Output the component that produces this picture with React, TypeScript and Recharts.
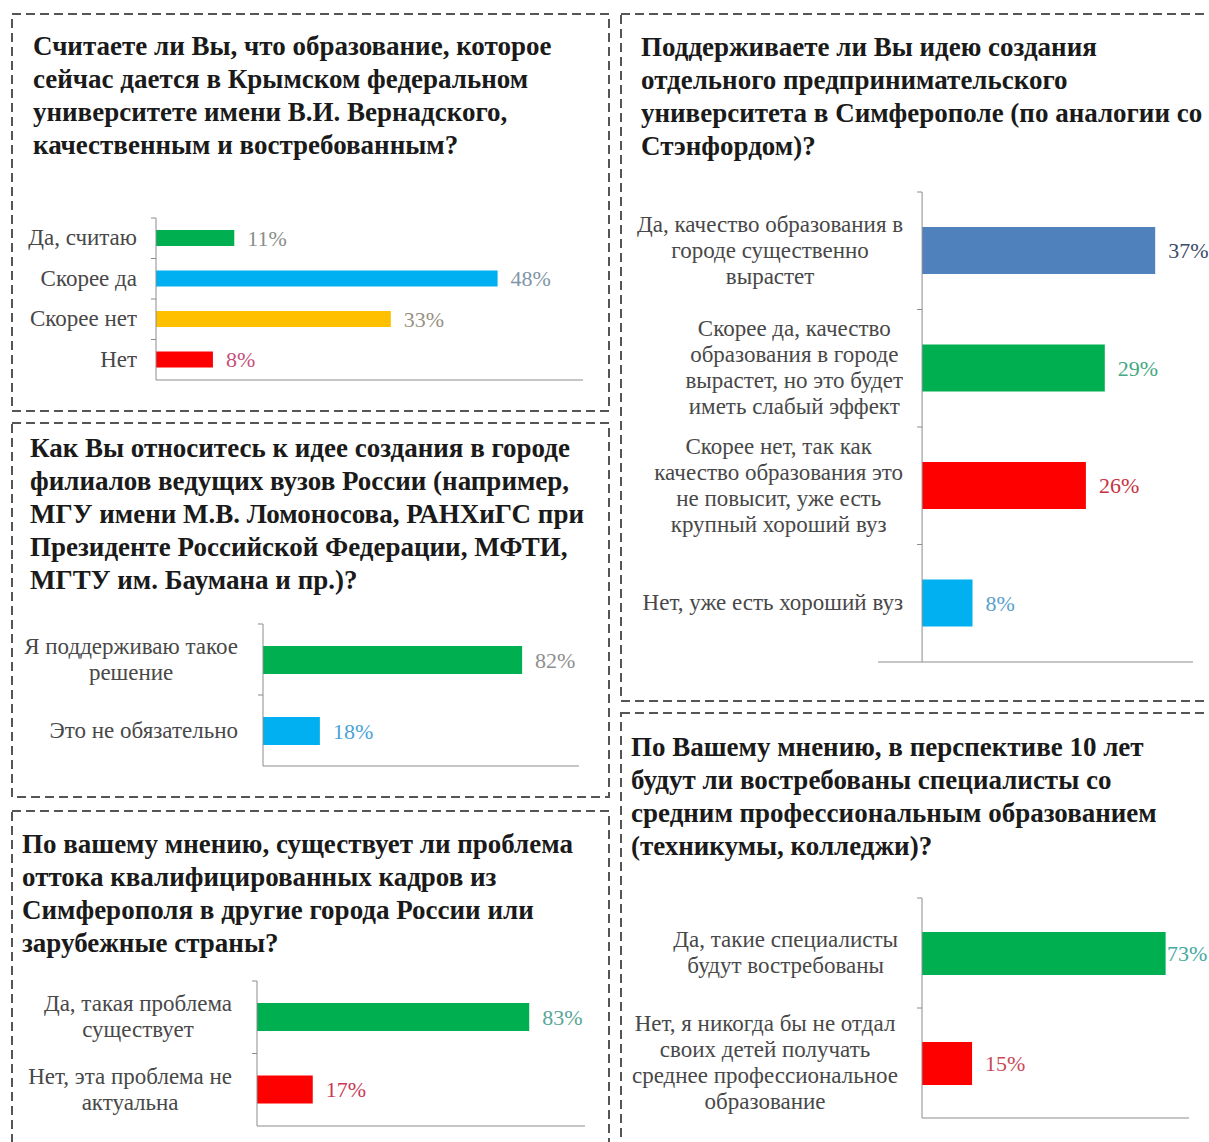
import { BarChart, Bar, XAxis, YAxis, Cell, LabelList, ReferenceLine } from 'recharts';

const SERIF = '"Liberation Serif", "Times New Roman", serif';
const AXIS = '#8c8c8c';

// Panel 1: quality of education at the university
const qualityTitle = [
  'Считаете ли Вы, что образование, которое',
  'сейчас дается в Крымском федеральном',
  'университете имени В.И. Вернадского,',
  'качественным и востребованным?',
];
const qualityCategories = ['Да, считаю', 'Скорее да', 'Скорее нет', 'Нет'];
const qualityValues = [11, 48, 33, 8];
const qualityColors = ['#00B050', '#00B0F0', '#FFC000', '#FF0000'];
const qualityLabelColors = ['#8a8f8a', '#7f94a8', '#9a9282', '#c8507a'];
const qualityTicks = [0, 10, 20, 30, 40, 50, 60];

// Panel 2: branches of leading universities
const branchesTitle = [
  'Как Вы относитесь к идее создания в городе',
  'филиалов ведущих вузов России (например,',
  'МГУ имени М.В. Ломоносова, РАНХиГС при',
  'Президенте Российской Федерации, МФТИ,',
  'МГТУ им. Баумана и пр.)?',
];
const branchesCategories = ['Я поддерживаю такое\nрешение', 'Это не обязательно'];
const branchesValues = [82, 18];
const branchesColors = ['#00B050', '#00B0F0'];
const branchesLabelColors = ['#8f8f8f', '#4aa3d6'];
const branchesTicks = [0, 20, 40, 60, 80, 100];

// Panel 3: brain drain
const drainTitle = [
  'По вашему мнению, существует ли проблема',
  'оттока квалифицированных кадров из',
  'Симферополя в другие города России или',
  'зарубежные страны?',
];
const drainCategories = ['Да, такая проблема\nсуществует', 'Нет, эта проблема не\nактуальна'];
const drainValues = [83, 17];
const drainColors = ['#00B050', '#FF0000'];
const drainLabelColors = ['#5aa598', '#c83a55'];
const drainTicks = [0, 20, 40, 60, 80, 100];

// Panel 4: entrepreneurial university
const stanfordTitle = [
  'Поддерживаете ли Вы идею создания',
  'отдельного предпринимательского',
  'университета в Симферополе (по аналогии со',
  'Стэнфордом)?',
];
const stanfordCategories = [
  'Да, качество образования в\nгороде существенно\nвырастет',
  'Скорее да, качество\nобразования в городе\nвырастет, но это будет\nиметь слабый эффект',
  'Скорее нет, так как\nкачество образования это\nне повысит, уже есть\nкрупный хороший вуз',
  'Нет, уже есть хороший вуз',
];
const stanfordValues = [37, 29, 26, 8];
const stanfordColors = ['#4F81BD', '#00B050', '#FF0000', '#00B0F0'];
const stanfordLabelColors = ['#3b4c6b', '#45a882', '#c8323f', '#5aa0cc'];
const stanfordTicks = [-7, 3, 13, 23, 33, 43];

// Panel 5: vocational education
const vocationalTitle = [
  'По Вашему мнению, в перспективе 10 лет',
  'будут ли востребованы специалисты со',
  'средним профессиональным образованием',
  '(техникумы, колледжи)?',
];
const vocationalCategories = [
  'Да, такие специалисты\nбудут востребованы',
  'Нет, я никогда бы не отдал\nсвоих детей получать\nсреднее профессиональное\nобразование',
];
const vocationalValues = [73, 15];
const vocationalColors = ['#00B050', '#FF0000'];
const vocationalLabelColors = ['#45aaa0', '#c84a5a'];
const vocationalTicks = [0, 20, 40, 60, 80];

interface Plot { l: number; r: number; t: number; b: number }

interface PanelChartProps {
  categories: string[];
  values: number[];
  colors: string[];
  labelColors: string[];
  ticks: number[];
  left: number;
  plot: Plot;
  barSize: number;
  labelGap: number;
  maxLabelX?: number;
}

function PanelChart({
  categories, values, colors, labelColors, ticks, left, plot, barSize, labelGap, maxLabelX,
}: PanelChartProps) {
  const data = categories.map((name, i) => ({ name, value: values[i] }));
  const top = plot.t - 10;
  const width = plot.r + 40 - left;
  const height = plot.b - top + 16;
  const d0 = ticks[0];
  const d1 = ticks[ticks.length - 1];
  const plotW = plot.r - plot.l;
  const zeroShift = (plotW * (0 - d0)) / (d1 - d0);
  const band = (plot.b - plot.t) / categories.length;

  // eslint-disable-next-line @typescript-eslint/no-explicit-any
  const CategoryTick = (props: any) => {
    const { x, y, payload } = props;
    const axisX = x + zeroShift;
    const lines = String(payload.value).split('\n');
    const w = 320;
    return (
      <g>
        <line x1={axisX - 5} x2={axisX} y1={y - band / 2} y2={y - band / 2} stroke={AXIS} />
        <foreignObject x={axisX - labelGap - w} y={y - band / 2} width={w} height={band}>
          <div style={{
            display: 'flex', justifyContent: 'flex-end', alignItems: 'center', height: '100%',
          }}>
            <div style={{
              textAlign: 'center', fontFamily: SERIF, fontSize: 23, lineHeight: '26px',
              color: '#484848', whiteSpace: 'nowrap',
            }}>
              {lines.map((l, i) => <div key={i}>{l}</div>)}
            </div>
          </div>
        </foreignObject>
      </g>
    );
  };

  // eslint-disable-next-line @typescript-eslint/no-explicit-any
  const ValueLabel = (props: any) => {
    const { x, y, width: w, height: h, value, index } = props;
    let tx = Number(x) + Number(w) + 13;
    if (maxLabelX !== undefined) tx = Math.min(tx, maxLabelX - left);
    return (
      <text x={tx} y={Number(y) + Number(h) / 2} dy="0.35em" fill={labelColors[index] ?? '#888'}
        fontFamily={SERIF} fontSize={22}>
        {value}%
      </text>
    );
  };

  return (
    <div style={{ position: 'absolute', left, top }}>
      <BarChart
        width={width}
        height={height}
        data={data}
        layout="vertical"
        margin={{ top: 10, right: 40, bottom: 4, left: 0 }}
        barCategoryGap={0}
      >
        <XAxis
          type="number"
          domain={[d0, d1]}
          ticks={ticks}
          interval={0}
          tick={false}
          tickSize={5}
          height={12}
          axisLine={{ stroke: AXIS }}
          tickLine={{ stroke: AXIS }}
          allowDataOverflow
        />
        <YAxis
          type="category"
          dataKey="name"
          width={plot.l - left}
          axisLine={false}
          tickLine={false}
          tickSize={0}
          tickMargin={0}
          interval={0}
          tick={<CategoryTick />}
        />
        <Bar dataKey="value" barSize={barSize} isAnimationActive={false}>
          {data.map((_, i) => <Cell key={i} fill={colors[i]} />)}
          <LabelList dataKey="value" content={<ValueLabel />} />
        </Bar>
        <ReferenceLine x={0} stroke={AXIS} strokeWidth={1} />
      </BarChart>
    </div>
  );
}

function Title({ lines, left, top }: { lines: string[]; left: number; top: number }) {
  return (
    <div style={{
      position: 'absolute', left, top, fontFamily: SERIF, fontWeight: 'bold', fontSize: 27,
      lineHeight: '33px', color: '#1a1a1a', whiteSpace: 'nowrap',
    }}>
      {lines.map((l, i) => <div key={i}>{l}</div>)}
    </div>
  );
}

const panels = [
  { x: 12, y: 14, w: 597, h: 397 },
  { x: 12, y: 423, w: 597, h: 374 },
  { x: 12, y: 811, w: 597, h: 360 },
  { x: 621, y: 14, w: 620, h: 687 },
  { x: 621, y: 713, w: 620, h: 460 },
];

export default function App() {
  return (
    <div style={{
      position: 'absolute', left: 0, top: 0, width: 1209, height: 1142, overflow: 'hidden',
      background: '#fff',
    }}>
      <svg width={1209} height={1142} style={{ position: 'absolute', left: 0, top: 0 }}>
        {panels.map((p, i) => (
          <rect key={i} x={p.x} y={p.y} width={p.w} height={p.h} fill="none" stroke="#555"
            strokeWidth={2} strokeDasharray="9 5" />
        ))}
      </svg>

      <Title lines={qualityTitle} left={33} top={30} />
      <PanelChart
        categories={qualityCategories} values={qualityValues} colors={qualityColors}
        labelColors={qualityLabelColors} ticks={qualityTicks} left={16}
        plot={{ l: 156, r: 583, t: 217.5, b: 379.5 }} barSize={16} labelGap={19}
      />

      <Title lines={branchesTitle} left={30} top={432} />
      <PanelChart
        categories={branchesCategories} values={branchesValues} colors={branchesColors}
        labelColors={branchesLabelColors} ticks={branchesTicks} left={16}
        plot={{ l: 263, r: 579, t: 624, b: 766 }} barSize={28} labelGap={25}
      />

      <Title lines={drainTitle} left={22} top={828} />
      <PanelChart
        categories={drainCategories} values={drainValues} colors={drainColors}
        labelColors={drainLabelColors} ticks={drainTicks} left={16}
        plot={{ l: 257, r: 585, t: 981, b: 1126 }} barSize={28} labelGap={25}
      />

      <Title lines={stanfordTitle} left={641} top={31} />
      <PanelChart
        categories={stanfordCategories} values={stanfordValues} colors={stanfordColors}
        labelColors={stanfordLabelColors} ticks={stanfordTicks} left={625}
        plot={{ l: 878, r: 1193, t: 192, b: 662 }} barSize={47} labelGap={19}
      />

      <Title lines={vocationalTitle} left={631} top={731} />
      <PanelChart
        categories={vocationalCategories} values={vocationalValues} colors={vocationalColors}
        labelColors={vocationalLabelColors} ticks={vocationalTicks} left={625}
        plot={{ l: 922, r: 1189, t: 898, b: 1118 }} barSize={43} labelGap={24} maxLabelX={1167}
      />
    </div>
  );
}
